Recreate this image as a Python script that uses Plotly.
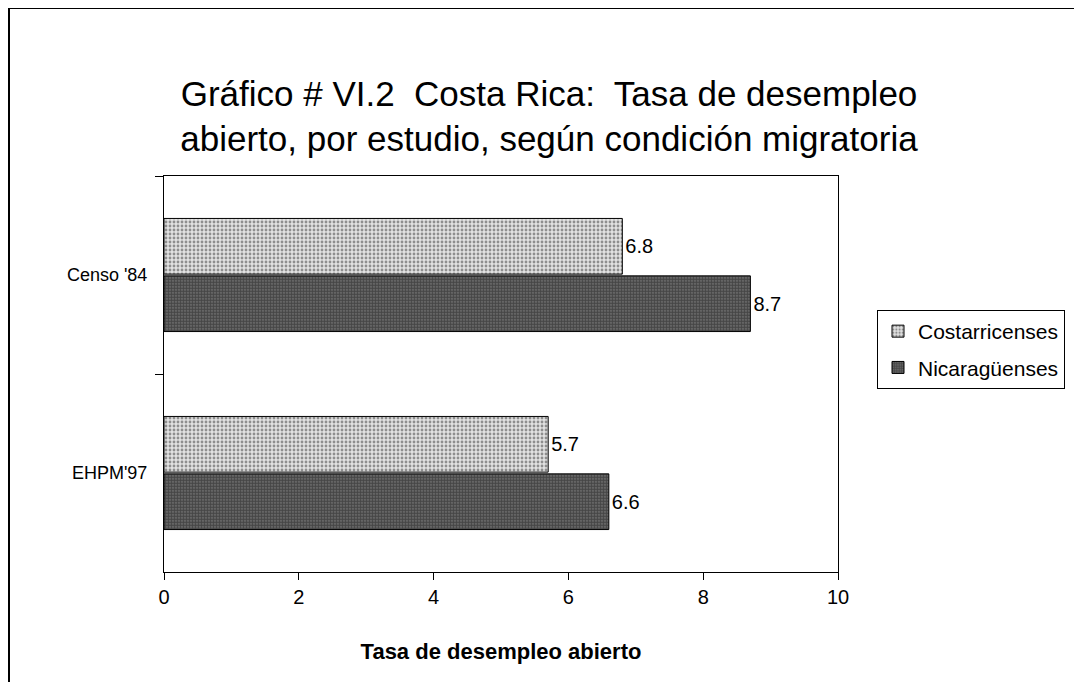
import plotly.graph_objects as go

categories = ["Censo '84", "EHPM'97"]
series_names = ["Costarricenses", "Nicaragüenses"]
costarricenses = [6.8, 5.7]
nicaraguenses = [8.7, 6.6]
x_ticks = [0, 2, 4, 6, 8, 10]

FONT = "Liberation Sans, Arial, sans-serif"

# plot area in canvas px (page has an 8px body margin)
L, T, R, B = 156, 168, 830, 564
W, H = float(R - L), float(B - T)

fig = go.Figure()
fig.add_trace(go.Bar(
    name=series_names[0], y=categories, x=costarricenses, orientation="h",
    legendgroup="a",
    text=[f"{v:.1f}" for v in costarricenses], textposition="outside",
    cliponaxis=False,
    textfont=dict(size=20, color="black", family=FONT),
    marker=dict(color="#e2e2e2", line=dict(color="black", width=1),
                pattern=dict(shape=".", fgcolor="#3a3a3a", bgcolor="#e2e2e2",
                             size=4, solidity=0.4, fillmode="overlay")),
))
fig.add_trace(go.Bar(
    name=series_names[1], y=categories, x=nicaraguenses, orientation="h",
    legendgroup="b",
    text=[f"{v:.1f}" for v in nicaraguenses], textposition="outside",
    cliponaxis=False,
    textfont=dict(size=20, color="black", family=FONT),
    marker=dict(color="#6e6e6e", line=dict(color="black", width=1),
                pattern=dict(shape=".", fgcolor="#111111", bgcolor="#7a7a7a",
                             size=3, solidity=0.75, fillmode="overlay")),
))

# outer frame (top and left edges visible in the reference)
fig.add_shape(type="line", xref="paper", yref="paper",
              x0=(1 - L) / W, x1=(1070 - L) / W,
              y0=(B - 0) / H, y1=(B - 0) / H,
              line=dict(color="black", width=2))
fig.add_shape(type="line", xref="paper", yref="paper",
              x0=(1 - L) / W, x1=(1 - L) / W,
              y0=(B - 0) / H, y1=(B - 700) / H,
              line=dict(color="black", width=2))

fig.update_layout(
    width=1082, height=682,
    margin=dict(l=L, r=1082 - R, t=T, b=682 - B),
    paper_bgcolor="white", plot_bgcolor="white",
    barmode="group", bargap=0.42, bargroupgap=0.03,
    font=dict(family=FONT, color="black"),
    title=dict(
        text="Gráfico # VI.2  Costa Rica:  Tasa de desempleo<br>abierto, por estudio, según condición migratoria",
        x=0.5, xref="container", xanchor="center",
        y=0.857, yref="container", yanchor="top",
        font=dict(size=35, family=FONT, color="black"),
    ),
    showlegend=True,
    legend=dict(
        x=(869 - L) / W, y=(B - 302) / H, xref="paper", yref="paper",
        xanchor="left", yanchor="top",
        bordercolor="black", borderwidth=1, bgcolor="white",
        font=dict(size=21, family=FONT, color="black"),
        tracegroupgap=6, traceorder="grouped",
    ),
    xaxis=dict(
        range=[0, 10], tickvals=x_ticks, ticktext=[str(t) for t in x_ticks],
        showgrid=False, zeroline=False,
        showline=True, linecolor="black", linewidth=1, mirror=True,
        ticks="outside", ticklen=7, tickcolor="black",
        tickfont=dict(size=20, family=FONT, color="black"),
        title=dict(text="<b>Tasa de desempleo abierto</b>",
                   font=dict(size=22, family=FONT, color="black"), standoff=36),
    ),
    yaxis=dict(
        categoryorder="array", categoryarray=categories,
        autorange="reversed",
        showgrid=False, zeroline=False,
        showline=True, linecolor="black", linewidth=1, mirror=True,
        ticks="outside", ticklen=8, tickcolor="black", tickson="boundaries",
        ticklabelstandoff=12,
        tickfont=dict(size=18, family=FONT, color="black"),
    ),
)

fig.write_html("out.html")
